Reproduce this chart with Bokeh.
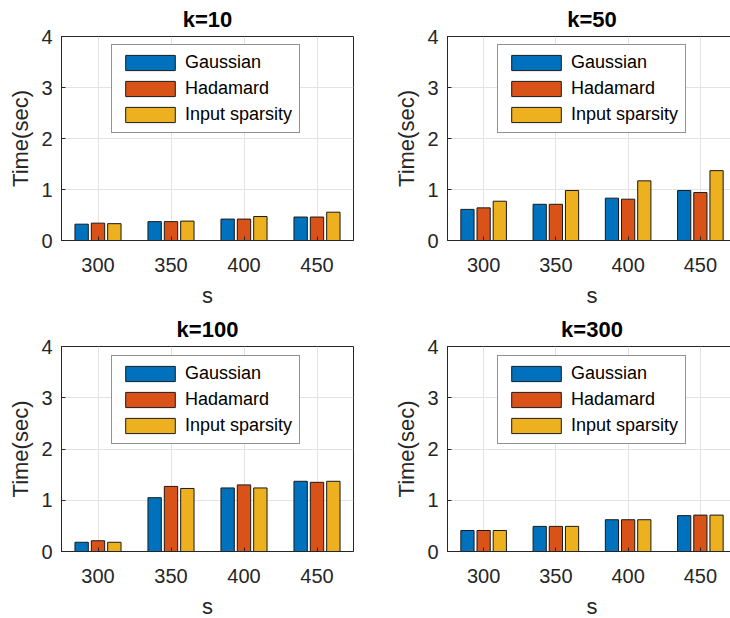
from bokeh.plotting import figure
from bokeh.layouts import column, row
from bokeh.models import FactorRange, Range1d, FixedTicker, Legend, LegendItem, ColumnDataSource
from bokeh.transform import dodge
from bokeh.embed import file_html
from bokeh.resources import INLINE

s_values = ["300", "350", "400", "450"]
series_names = ["Gaussian", "Hadamard", "Input sparsity"]
series_colors = ["#0072BD", "#D95319", "#EDB120"]
titles = ["k=10", "k=50", "k=100", "k=300"]
y_ticks = [0, 1, 2, 3, 4]

k10_gaussian = [0.32, 0.37, 0.42, 0.46]
k10_hadamard = [0.34, 0.37, 0.42, 0.46]
k10_input = [0.33, 0.38, 0.47, 0.555]

k50_gaussian = [0.61, 0.71, 0.83, 0.98]
k50_hadamard = [0.64, 0.71, 0.81, 0.94]
k50_input = [0.77, 0.98, 1.17, 1.37]

k100_gaussian = [0.18, 1.05, 1.24, 1.37]
k100_hadamard = [0.21, 1.27, 1.30, 1.35]
k100_input = [0.18, 1.23, 1.24, 1.37]

k300_gaussian = [0.41, 0.49, 0.62, 0.70]
k300_hadamard = [0.41, 0.49, 0.62, 0.71]
k300_input = [0.41, 0.49, 0.62, 0.71]

panels = [
    (titles[0], k10_gaussian, k10_hadamard, k10_input),
    (titles[1], k50_gaussian, k50_hadamard, k50_input),
    (titles[2], k100_gaussian, k100_hadamard, k100_input),
    (titles[3], k300_gaussian, k300_hadamard, k300_input),
]

FONT = "Liberation Sans"
AX = "#262626"
GRID = "#e3e3e3"


def make_panel(title, g, h, inp, width, border_left, height):
    p = figure(
        x_range=FactorRange(*s_values),
        y_range=Range1d(0, 4),
        width=width, height=height,
        min_border_left=border_left, min_border_right=38,
        min_border_top=33, min_border_bottom=68,
        output_backend="svg", toolbar_location=None,
        background_fill_color="white", border_fill_color="white",
    )
    p.title.text = title
    p.title.text_font = FONT
    p.title.text_font_size = "22px"
    p.title.text_font_style = "bold"
    p.title.text_color = "black"
    p.title.align = "center"
    p.title.standoff = 9

    src = ColumnDataSource(dict(s=s_values, gaussian=g, hadamard=h, inp=inp))
    keys = ["gaussian", "hadamard", "inp"]
    offsets = [-0.224, 0.0, 0.224]
    items = []
    for key, name, color, off in zip(keys, series_names, series_colors, offsets):
        r = p.vbar(x=dodge("s", off, range=p.x_range), top=key, width=0.183,
                   source=src, fill_color=color, line_color="#1a1a1a", line_width=1)
        items.append(LegendItem(label=name, renderers=[r]))

    leg = Legend(items=items, location=(50, 107), margin=0,
                 padding=7, spacing=5, glyph_width=62, glyph_height=19,
                 label_standoff=4, label_text_font=FONT, label_text_font_size="18px",
                 label_text_color="black", border_line_color=AX, border_line_width=1,
                 background_fill_color="white", background_fill_alpha=1.0)
    p.add_layout(leg)

    p.outline_line_color = AX
    p.outline_line_width = 1
    p.outline_line_alpha = 1.0

    p.xgrid.grid_line_color = GRID
    p.ygrid.grid_line_color = GRID
    p.ygrid.ticker = FixedTicker(ticks=y_ticks)

    for ax in [p.xaxis[0], p.yaxis[0]]:
        ax.axis_line_color = AX
        ax.major_tick_line_color = AX
        ax.major_tick_in = 4
        ax.major_tick_out = 0
        ax.minor_tick_in = 0
        ax.minor_tick_out = 0
        ax.major_label_text_font = FONT
        ax.major_label_text_font_size = "20px"
        ax.major_label_text_color = AX
        ax.axis_label_text_font = FONT
        ax.axis_label_text_font_size = "22px"
        ax.axis_label_text_font_style = "normal"
        ax.axis_label_text_color = AX

    p.yaxis[0].ticker = FixedTicker(ticks=y_ticks)
    p.yaxis[0].axis_label = "Time(sec)"
    p.yaxis[0].major_label_standoff = 9
    p.yaxis[0].axis_label_standoff = 5
    p.xaxis[0].axis_label = "s"
    p.xaxis[0].major_label_standoff = 17
    p.xaxis[0].axis_label_standoff = 8
    return p


# left column: 61 + 292 + 38 = 391 ; right column: 53 + 292 + 38 = 383
f1 = make_panel(*panels[0], width=391, border_left=61, height=310)
f2 = make_panel(*panels[1], width=383, border_left=53, height=310)
f3 = make_panel(*panels[2], width=391, border_left=61, height=311)
f4 = make_panel(*panels[3], width=383, border_left=53, height=311)
layout = column(row(f1, f2), row(f3, f4))

html = file_html(layout, INLINE)
html = html.replace("<head>", "<head><style>html, body { overflow: hidden; }</style>", 1)
open("out.html", "w").write(html)
